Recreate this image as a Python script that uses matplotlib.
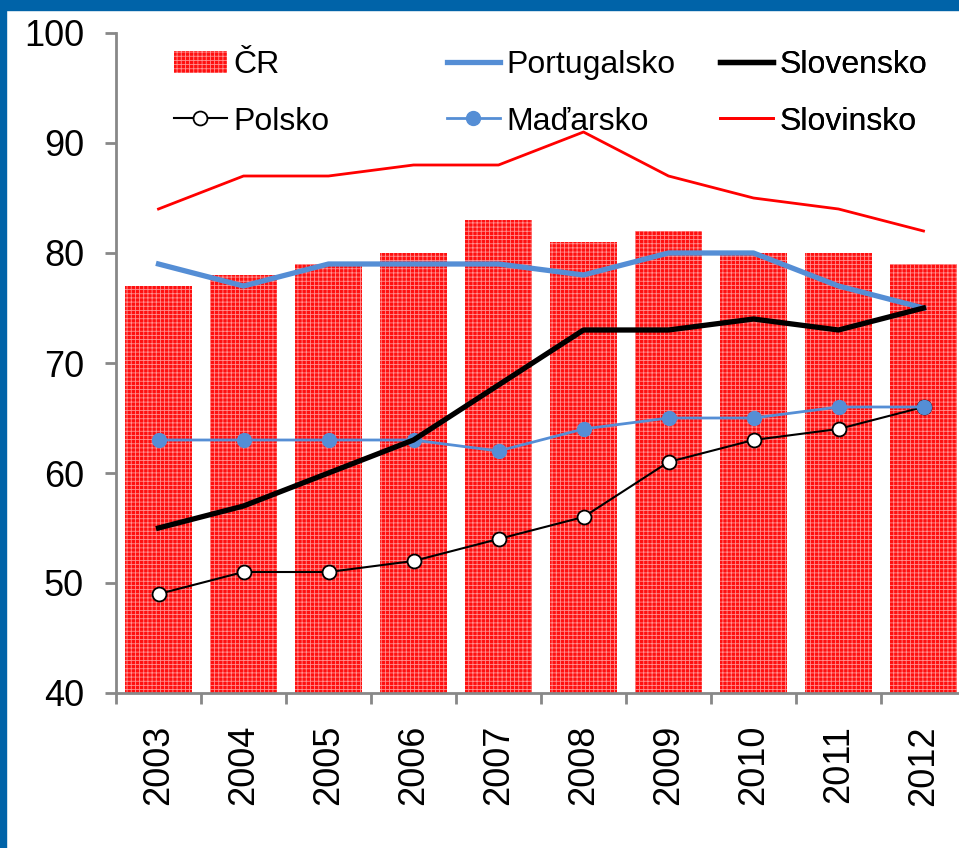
import matplotlib.pyplot as plt
import matplotlib.patches as mpatches
import numpy as np

years = ['2003', '2004', '2005', '2006', '2007', '2008', '2009', '2010', '2011', '2012']
cr = [77, 78, 79, 80, 83, 81, 82, 80, 80, 79]
portugalsko = [79, 77, 79, 79, 79, 78, 80, 80, 77, 75]
slovensko = [55, 57, 60, 63, 68, 73, 73, 74, 73, 75]
polsko = [49, 51, 51, 52, 54, 56, 61, 63, 64, 66]
madarsko = [63, 63, 63, 63, 62, 64, 65, 65, 66, 66]
slovinsko = [84, 87, 87, 88, 88, 91, 87, 85, 84, 82]

plt.rcParams['font.family'] = ['Liberation Sans', 'DejaVu Sans']
plt.rcParams['hatch.linewidth'] = 0.6

fig = plt.figure(figsize=(9.59, 8.48), dpi=100)
# blue frame strips
fig.patches.append(mpatches.Rectangle((0, 0), 6 / 959, 1, transform=fig.transFigure, color='#0063a8', zorder=0))
fig.patches.append(mpatches.Rectangle((0, 1 - 10 / 848), 1, 10 / 848, transform=fig.transFigure, color='#0063a8', zorder=0))

ax = fig.add_axes([116 / 959, 1 - 693 / 848, 850 / 959, 660 / 848])
x = np.arange(len(years))

h_cr = ax.bar(x, cr, width=0.78, color='#ff1010', edgecolor='#ff9090', linewidth=0, hatch='++++', label='ČR', zorder=1)
h_pl, = ax.plot(x, polsko, color='black', lw=1.5, marker='o', ms=10, mfc='white', mec='black', mew=1.3, label='Polsko', zorder=3)
h_pt, = ax.plot(x, portugalsko, color='#558ed5', lw=3.8, label='Portugalsko', zorder=3)
h_hu, = ax.plot(x, madarsko, color='#558ed5', lw=2, marker='o', ms=10, label='Maďarsko', zorder=3)
h_sk, = ax.plot(x, slovensko, color='black', lw=3.8, label='Slovensko', zorder=3)
h_si, = ax.plot(x, slovinsko, color='red', lw=2, label='Slovinsko', zorder=3)

ax.set_xlim(-0.5, 9.5)
ax.set_ylim(40, 100)
ax.set_yticks(range(40, 101, 10))
ax.set_xticks(x)
ax.set_xticklabels(years, rotation=90)
ax.set_xticks(np.arange(-0.5, 10, 1), minor=True)

for s in ['top', 'right']:
    ax.spines[s].set_visible(False)
for s in ['left', 'bottom']:
    ax.spines[s].set_color('#888888')
    ax.spines[s].set_linewidth(2)

ax.tick_params(axis='y', length=8, width=2, color='#888888', labelsize=26, pad=15)
ax.tick_params(axis='x', which='major', length=0, labelsize=26, pad=23)
ax.tick_params(axis='x', which='minor', length=8, width=2, color='#888888')

# legend in three columns at fixed positions
cols = [([h_cr, h_pl], ['ČR', 'Polsko'], 174),
        ([h_pt, h_hu], ['Portugalsko', 'Maďarsko'], 447),
        ([h_sk, h_si], ['Slovensko', 'Slovinsko'], 720)]
for handles, labels, xpx in cols:
    leg = ax.legend(handles, labels, loc='upper left', bbox_to_anchor=(xpx / 959, 1 - 50 / 848),
                    bbox_transform=fig.transFigure, frameon=False, fontsize=23,
                    handlelength=1.65, handletextpad=0.2, labelspacing=0.83,
                    borderpad=0, borderaxespad=0)
    ax.add_artist(leg)

fig.savefig('out.png', dpi=100)
